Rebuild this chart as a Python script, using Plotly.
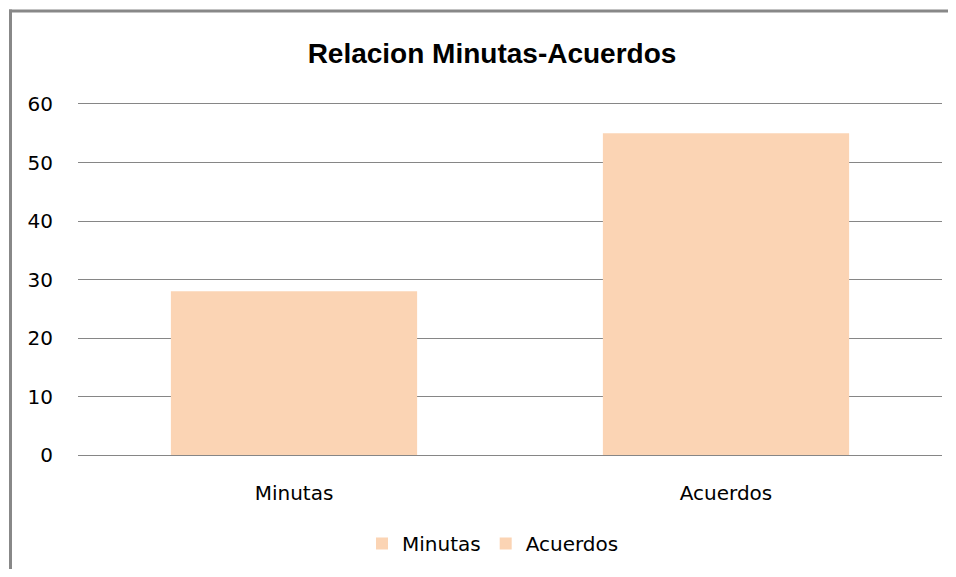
import plotly.graph_objects as go

categories = ["Minutas", "Acuerdos"]
values = [28, 55]
y_ticks = [0, 10, 20, 30, 40, 50, 60]

bar_color = "#FBD4B4"
grid_color = "#868686"
frame_color = "#888888"
tick_font = "DejaVu Sans, Verdana, sans-serif"
title_font = "Liberation Sans, Arial, sans-serif"

fig = go.Figure()
for cat, val in zip(categories, values):
    fig.add_trace(go.Bar(
        x=[cat], y=[val], name=cat,
        marker=dict(color=bar_color, line=dict(width=0)),
        width=0.57, showlegend=True,
    ))

# the page has an 8px body margin, so the figure is drawn 8px smaller/offset
W, H = 940, 561
L, R, T, B = 70, 6, 96, 112
pw, ph = W - L - R, H - T - B

def px_x(p):
    return (p - L) / pw

def px_y(p):
    return (H - B - p) / ph

frame = dict(color=frame_color, width=3)
fig.add_shape(type="line", xref="paper", yref="paper",
              x0=px_x(2.5), x1=px_x(2.5), y0=px_y(1.0), y1=px_y(600), line=frame)
fig.add_shape(type="line", xref="paper", yref="paper",
              x0=px_x(1.0), x1=px_x(990), y0=px_y(2.5), y1=px_y(2.5), line=frame)

fig.update_layout(
    width=W, height=H, autosize=False,
    margin=dict(l=L, r=R, t=T, b=B),
    paper_bgcolor="white", plot_bgcolor="white",
    barmode="overlay",
    font=dict(family=tick_font, color="#000000", size=20),
    title=dict(text="<b>Relacion Minutas-Acuerdos</b>", x=484 / W, xanchor="center",
               y=1 - 45 / H, yanchor="middle",
               font=dict(size=28, family=title_font, color="#000000")),
    legend=dict(orientation="h", x=px_x(485), xanchor="center", y=px_y(538), yanchor="middle",
                font=dict(size=20, family=tick_font), itemwidth=30, traceorder="normal"),
    xaxis=dict(showgrid=False, showline=True, mirror=True, linecolor=grid_color, linewidth=1.3,
               ticks="", tickfont=dict(size=20), ticklabelstandoff=20),
    yaxis=dict(range=[0, 60], tickvals=y_ticks, showgrid=True, gridcolor=grid_color, gridwidth=1.3,
               zeroline=True, zerolinecolor=grid_color, zerolinewidth=1.3,
               showline=False, ticks="", tickfont=dict(size=20), ticklabelstandoff=24),
)

fig.write_html("out.html")
